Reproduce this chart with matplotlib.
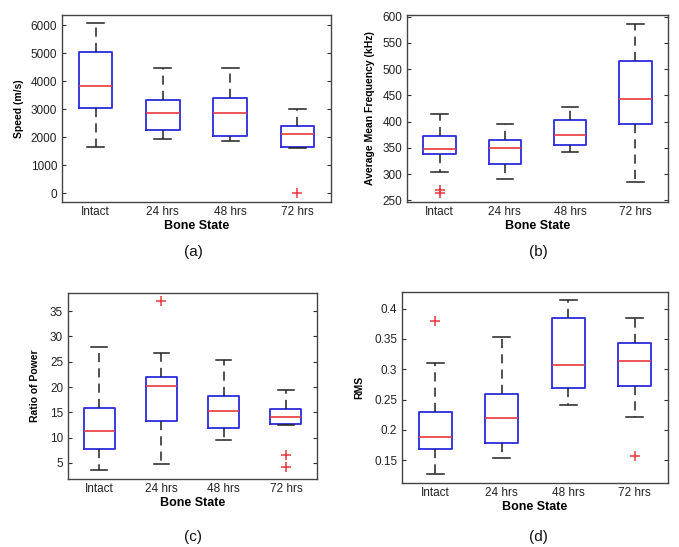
import matplotlib
matplotlib.use("Agg")
import matplotlib.pyplot as plt

plt.rcParams['font.family'] = ['Liberation Sans', 'DejaVu Sans']

categories = ["Intact", "24 hrs", "48 hrs", "72 hrs"]

# (a) Speed (m/s): whislo, q1, med, q3, whishi, outliers
speed_lo = [1650, 1940, 1880, 1620]
speed_q1 = [3030, 2270, 2030, 1640]
speed_med = [3820, 2850, 2850, 2100]
speed_q3 = [5030, 3330, 3390, 2390]
speed_hi = [6060, 4480, 4480, 3020]
speed_fl = [[], [], [], [0]]

# (b) Average Mean Frequency (kHz)
freq_lo = [305, 290, 342, 285]
freq_q1 = [338, 320, 355, 395]
freq_med = [347, 350, 375, 444]
freq_q3 = [372, 365, 403, 515]
freq_hi = [415, 395, 428, 585]
freq_fl = [[264, 270], [], [], []]

# (c) Ratio of Power
ratio_lo = [3.5, 4.7, 9.5, 12.5]
ratio_q1 = [7.7, 13.2, 11.8, 12.7]
ratio_med = [11.2, 20.2, 15.2, 14.0]
ratio_q3 = [15.9, 22.0, 18.2, 15.7]
ratio_hi = [28.0, 26.8, 25.4, 19.4]
ratio_fl = [[], [37.0], [], [6.6, 4.1]]

# (d) RMS
rms_lo = [0.128, 0.153, 0.241, 0.222]
rms_q1 = [0.168, 0.179, 0.270, 0.272]
rms_med = [0.189, 0.219, 0.307, 0.314]
rms_q3 = [0.229, 0.260, 0.385, 0.343]
rms_hi = [0.311, 0.354, 0.414, 0.384]
rms_fl = [[0.379], [], [], [0.157]]

W, H = 679, 547
fig = plt.figure(figsize=(W / 100, H / 100), dpi=100)


def make_ax(left, top, right, bottom):
    return fig.add_axes([left / W, (H - bottom) / H, (right - left) / W, (bottom - top) / H])


def draw(ax, lo, q1, med, q3, hi, fl, ylim, yticks, yticklabels, ylabel, pad):
    stats = []
    for i in range(len(categories)):
        stats.append(dict(whislo=lo[i], q1=q1[i], med=med[i], q3=q3[i],
                          whishi=hi[i], fliers=fl[i], label=categories[i]))
    ax.bxp(stats, positions=[1, 2, 3, 4], widths=0.5, showfliers=True,
           boxprops=dict(color='#2b2bdc', linewidth=1.3),
           medianprops=dict(color='#e8383c', linewidth=1.2),
           whiskerprops=dict(color='#222222', linewidth=1.1, linestyle=(0, (6, 4))),
           capprops=dict(color='#222222', linewidth=1.1),
           flierprops=dict(marker='+', markeredgecolor='#e8383c', markersize=6.5,
                           markeredgewidth=1.1, linestyle='none'))
    ax.set_xlim(0.5, 4.5)
    ax.set_ylim(*ylim)
    ax.set_yticks(yticks)
    ax.set_yticklabels(yticklabels)
    ax.tick_params(axis='y', direction='in', length=3, right=True, labelsize=8.5,
                   colors='#333333', labelcolor='#222222')
    ax.tick_params(axis='x', length=0, labelsize=8.5, labelcolor='#222222', pad=3)
    for s in ax.spines.values():
        s.set_color('#444444')
        s.set_linewidth(1.0)
    ax.set_ylabel(ylabel, fontsize=7.5, fontweight='bold', labelpad=pad)
    ax.set_xlabel("Bone State", fontsize=9, fontweight='bold', labelpad=1)


ax_a = make_ax(62, 15, 331, 202)
draw(ax_a, speed_lo, speed_q1, speed_med, speed_q3, speed_hi, speed_fl,
     (-310, 6360), [0, 1000, 2000, 3000, 4000, 5000, 6000],
     ["0", "1000", "2000", "3000", "4000", "5000", "6000"], "Speed (m/s)", 5)

ax_b = make_ax(407, 15, 668, 202)
draw(ax_b, freq_lo, freq_q1, freq_med, freq_q3, freq_hi, freq_fl,
     (247, 603), [250, 300, 350, 400, 450, 500, 550, 600],
     ["250", "300", "350", "400", "450", "500", "550", "600"],
     "Average Mean Frequency (kHz)", 5)

ax_c = make_ax(68, 293, 317, 479)
draw(ax_c, ratio_lo, ratio_q1, ratio_med, ratio_q3, ratio_hi, ratio_fl,
     (1.8, 38.6), [5, 10, 15, 20, 25, 30, 35],
     ["5", "10", "15", "20", "25", "30", "35"], "Ratio of Power", 7)

ax_d = make_ax(402, 292, 668, 483)
draw(ax_d, rms_lo, rms_q1, rms_med, rms_q3, rms_hi, rms_fl,
     (0.1125, 0.4275), [0.15, 0.2, 0.25, 0.3, 0.35, 0.4],
     ["0.15", "0.2", "0.25", "0.3", "0.35", "0.4"], "RMS", 7)

for lab, x, y in [("(a)", 193, 252), ("(b)", 538, 252), ("(c)", 193, 537), ("(d)", 538, 537)]:
    fig.text(x / W, 1 - y / H, lab, fontsize=11, ha='center', va='center', color='#111111')

fig.savefig("out.png", dpi=100)
